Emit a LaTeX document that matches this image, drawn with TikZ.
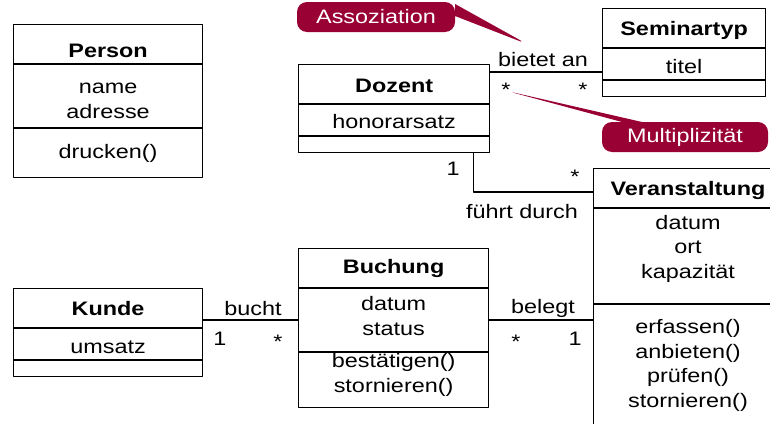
\documentclass[tikz,border=0pt]{standalone}
\usepackage{fontspec}
\setmainfont{Liberation Sans}[FakeStretch=1.2]
\usetikzlibrary{shapes.callouts}
\definecolor{weinrot}{RGB}{153,0,51}
\begin{document}
\begin{tikzpicture}[x=1pt,y=-1pt,line width=1.2pt,line join=round,
  font=\fontsize{19.5}{24.5}\selectfont,
  klasse/.style={draw,anchor=north west,inner sep=0pt},
  txt/.style={anchor=base,align=center,inner sep=0pt},
  kopf/.style={txt,font=\fontsize{19.5}{24.5}\selectfont\bfseries},
  hinweis/.style={rectangle callout,fill=weinrot,text=white,rounded corners=10pt,
    inner sep=0pt,minimum height=30pt}]
\useasboundingbox (0,0) rectangle (770,423);
\clip (0,0) rectangle (770,423);
% Klassen
\node[klasse,minimum width=189pt,minimum height=153pt] (person) at (13,24) {};
\draw (person.west |- 0,64) -- (person.east |- 0,64) (person.west |- 0,128) -- (person.east |- 0,128);
\node[kopf] (person-kopf) at (person.north |- 0,57) {Person};
\node[txt] (person-attr) at (person.north |- 0,118) {name\\adresse};
\node[txt] (person-op) at (person.north |- 0,158) {drucken()};

\node[klasse,minimum width=191pt,minimum height=88pt] (dozent) at (298,64) {};
\draw (dozent.west |- 0,104) -- (dozent.east |- 0,104) (dozent.west |- 0,136) -- (dozent.east |- 0,136);
\node[kopf] (dozent-kopf) at (dozent.north |- 0,92) {Dozent};
\node[txt] (dozent-attr) at (dozent.north |- 0,128) {honorarsatz};

\node[klasse,minimum width=163pt,minimum height=88pt] (seminartyp) at (602,8) {};
\draw (seminartyp.west |- 0,48) -- (seminartyp.east |- 0,48) (seminartyp.west |- 0,80) -- (seminartyp.east |- 0,80);
\node[kopf] (seminartyp-kopf) at (seminartyp.north |- 0,35) {Seminartyp};
\node[txt] (seminartyp-attr) at (seminartyp.north |- 0,73) {titel};

\node[klasse,minimum width=190pt,minimum height=280pt] (veranstaltung) at (593,168) {};
\draw (veranstaltung.west |- 0,208) -- (veranstaltung.east |- 0,208) (veranstaltung.west |- 0,304) -- (veranstaltung.east |- 0,304);
\node[kopf] (veranstaltung-kopf) at (688,195) {Veranstaltung};
\node[txt] (veranstaltung-attr) at (688,278) {datum\\ort\\kapazität};
\node[txt] (veranstaltung-op) at (688,407) {erfassen()\\anbieten()\\prüfen()\\stornieren()};

\node[klasse,minimum width=189pt,minimum height=88pt] (kunde) at (13,288) {};
\draw (kunde.west |- 0,328) -- (kunde.east |- 0,328) (kunde.west |- 0,360) -- (kunde.east |- 0,360);
\node[kopf] (kunde-kopf) at (kunde.north |- 0,315) {Kunde};
\node[txt] (kunde-attr) at (kunde.north |- 0,353) {umsatz};

\node[klasse,minimum width=190pt,minimum height=159pt] (buchung) at (298,248) {};
\draw (buchung.west |- 0,288) -- (buchung.east |- 0,288) (buchung.west |- 0,352) -- (buchung.east |- 0,352);
\node[kopf] (buchung-kopf) at (buchung.north |- 0,273) {Buchung};
\node[txt] (buchung-attr) at (buchung.north |- 0,335) {datum\\status};
\node[txt] (buchung-op) at (buchung.north |- 0,392) {bestätigen()\\stornieren()};

% Assoziationen
\coordinate (ba) at ([yshift=-8pt]dozent.north east);
\draw (ba) -- (ba -| seminartyp.west);
\draw ([xshift=-17pt]dozent.south east) |- ([yshift=-24pt]veranstaltung.north west);
\coordinate (bu) at ([yshift=-32pt]kunde.north east);
\draw (bu) -- (bu -| buchung.west);
\draw (bu -| buchung.east) -- (bu -| veranstaltung.west);

\node[txt] (bietet) at (543,66) {bietet an};
\node[txt] (m1) at (506,96) {*};
\node[txt] (m2) at (583,96) {*};
\node[txt] (fuehrt) at (522,218) {führt durch};
\node[txt] (m3) at (453,175) {1};
\node[txt] (m4) at (575,183) {*};
\node[txt] (bucht) at (253,315) {bucht};
\node[txt] (m5) at (220,345) {1};
\node[txt] (m6) at (278,348) {*};
\node[txt] (belegt) at (543,313) {belegt};
\node[txt] (m7) at (516,348) {*};
\node[txt] (m8) at (575,345) {1};

% Hinweise
\node[hinweis,minimum width=158pt,callout pointer width=12pt,callout absolute pointer={(527,44)}] (assoziation) at (376,17) {Assoziation};
\node[hinweis,minimum width=166pt,callout pointer width=20pt,callout absolute pointer={(507,91)}] (multiplizitaet) at (685,137) {Multiplizität};
\end{tikzpicture}
\end{document}
